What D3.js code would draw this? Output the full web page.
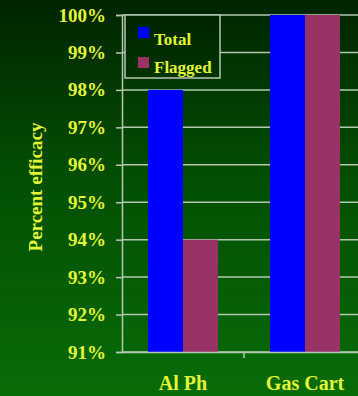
<!DOCTYPE html>
<html>
<head>
<meta charset="utf-8">
<script src="https://cdn.jsdelivr.net/npm/d3@7"></script>
<style>
  html, body { margin: 0; padding: 0; background: #0a4a0a; }
  svg { display: block; }
</style>
</head>
<body>
<svg id="chart" width="358" height="396"></svg>
<script>
// Efficacy by method (percent)
const categories = ["Al Ph", "Gas Cart"];
const seriesNames = ["Total", "Flagged"];
const totalValues = [98, 100];
const flaggedValues = [94, 100];
const yTicks = [91, 92, 93, 94, 95, 96, 97, 98, 99, 100];
const seriesColors = ["#0000ff", "#993366"];

const W = 358, H = 396;
const margin = { top: 15, left: 122, bottom: 44, right: -8 };
const plotW = W - margin.left - margin.right;
const plotH = H - margin.top - margin.bottom;
const textColor = "#e2f53a";
const gridColor = "#b4c8b0";
const font = "'Liberation Serif', 'Times New Roman', serif";

const svg = d3.select("#chart");

// Background gradient: dark green at the top, brighter at the bottom
const defs = svg.append("defs");
const grad = defs.append("linearGradient")
  .attr("id", "bg").attr("gradientUnits", "userSpaceOnUse")
  .attr("x1", 0).attr("y1", 0).attr("x2", 0).attr("y2", H);
grad.append("stop").attr("offset", "0%").attr("stop-color", "#002400");
grad.append("stop").attr("offset", "45%").attr("stop-color", "#034f03");
grad.append("stop").attr("offset", "100%").attr("stop-color", "#086c08");
svg.append("rect").attr("width", W).attr("height", H).attr("fill", "url(#bg)");

const data = categories.map((c, i) => ({
  category: c,
  values: [totalValues[i], flaggedValues[i]]
}));

const x0 = d3.scaleBand().domain(categories).range([0, plotW]).paddingInner(0).paddingOuter(0);
const x1 = d3.scaleBand().domain(seriesNames).range([26, x0.bandwidth() - 26]);
const y = d3.scaleLinear().domain([91, 100]).range([plotH, 0]);

const g = svg.append("g").attr("transform", `translate(${margin.left},${margin.top})`);

// Horizontal gridlines
g.append("g").selectAll("line").data(yTicks).join("line")
  .attr("x1", 0).attr("x2", plotW)
  .attr("y1", d => y(d)).attr("y2", d => y(d))
  .attr("stroke", gridColor).attr("stroke-width", 1.5);

// Bars
const groups = g.append("g").selectAll("g").data(data).join("g")
  .attr("transform", d => `translate(${x0(d.category)},0)`);
groups.selectAll("rect")
  .data(d => d.values.map((v, i) => ({ key: seriesNames[i], value: v, i })))
  .join("rect")
  .attr("x", d => x1(d.key))
  .attr("width", x1.bandwidth())
  .attr("y", d => y(d.value))
  .attr("height", d => plotH - y(d.value))
  .attr("fill", d => seriesColors[d.i]);

// Y axis
const yAxis = g.append("g")
  .call(d3.axisLeft(y).tickValues(yTicks).tickFormat(d => d + "%").tickSize(6).tickPadding(10));
yAxis.select(".domain").attr("stroke", gridColor).attr("stroke-width", 1.5);
yAxis.selectAll(".tick line").attr("stroke", gridColor).attr("stroke-width", 1.5);
yAxis.selectAll(".tick text")
  .attr("fill", textColor).attr("font-family", font)
  .attr("font-weight", "bold").attr("font-size", 19);

// X axis
const xAxis = g.append("g").attr("transform", `translate(0,${plotH})`)
  .call(d3.axisBottom(x0).tickSize(0).tickPadding(24));
xAxis.select(".domain").attr("stroke", gridColor).attr("stroke-width", 1.5);
xAxis.selectAll(".tick text")
  .attr("fill", textColor).attr("font-family", font)
  .attr("font-weight", "bold").attr("font-size", 20);
// Category separator tick marks
g.append("g").selectAll("line").data(categories.slice(1)).join("line")
  .attr("x1", d => x0(d)).attr("x2", d => x0(d))
  .attr("y1", plotH).attr("y2", plotH + 6)
  .attr("stroke", gridColor).attr("stroke-width", 1.5);

// Y axis title
svg.append("text")
  .attr("transform", `translate(42,187) rotate(-90)`)
  .attr("text-anchor", "middle")
  .attr("fill", textColor).attr("font-family", font)
  .attr("font-weight", "bold").attr("font-size", 19)
  .text("Percent efficacy");

// Legend
const legend = svg.append("g").attr("transform", `translate(${margin.left + 3},${margin.top})`);
legend.append("rect")
  .attr("x", 0).attr("y", 0).attr("width", 95).attr("height", 63)
  .attr("fill", "url(#bg)").attr("transform", null)
  .attr("stroke", gridColor).attr("stroke-width", 1.5);
seriesNames.forEach((name, i) => {
  legend.append("rect")
    .attr("x", 13).attr("y", 12 + i * 30).attr("width", 11).attr("height", 11)
    .attr("fill", seriesColors[i]);
  legend.append("text")
    .attr("x", 29).attr("y", 30 + i * 28)
    .attr("fill", textColor).attr("font-family", font)
    .attr("font-weight", "bold").attr("font-size", 17)
    .text(name);
});
</script>
</body>
</html>
